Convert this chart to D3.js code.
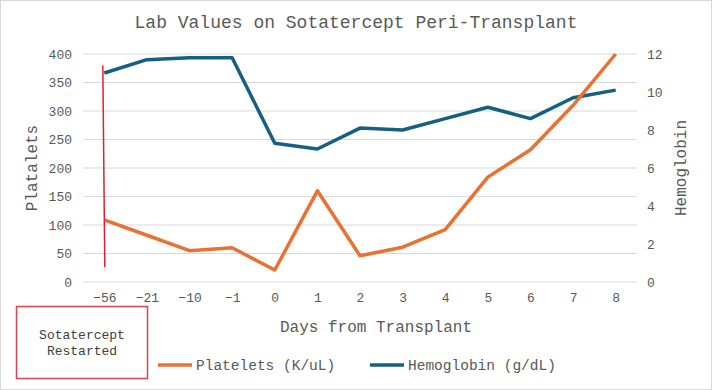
<!DOCTYPE html>
<html>
<head>
<meta charset="utf-8">
<script src="https://cdn.jsdelivr.net/npm/d3@7"></script>
<style>
  body { margin: 0; background: #fff; }
  text { font-family: "Liberation Mono", "Courier New", monospace; }
</style>
</head>
<body>
<div id="chart"></div>
<script>
// data
const days = ["-56", "-21", "-10", "-1", "0", "1", "2", "3", "4", "5", "6", "7", "8"];
const platelets = [109, 82, 55, 60, 21, 160, 46, 61, 92, 184, 232, 310, 400];
const hemoglobin = [11.0, 11.7, 11.8, 11.8, 7.3, 7.0, 8.1, 8.0, 8.6, 9.2, 8.6, 9.7, 10.1];
const leftTicks = [0, 50, 100, 150, 200, 250, 300, 350, 400];
const rightTicks = [0, 2, 4, 6, 8, 10, 12];
// red marker line (platelet units), drawn at day -56
const markerTop = 380, markerBottom = 26;

const W = 712, H = 390;
const margin = { top: 54, right: 75, bottom: 108, left: 83 };
const width = W - margin.left - margin.right;
const height = H - margin.top - margin.bottom;

const svg = d3.select("#chart").append("svg")
  .attr("width", W)
  .attr("height", H);

svg.append("rect")
  .attr("x", 0.5).attr("y", 0.5)
  .attr("width", W - 1).attr("height", H - 1)
  .attr("fill", "#fff")
  .attr("stroke", "#d9d9d9");

const g = svg.append("g")
  .attr("transform", `translate(${margin.left}, ${margin.top})`);

const x = d3.scalePoint()
  .domain(days)
  .range([0, width])
  .padding(0.5);

const yL = d3.scaleLinear().domain([0, 400]).range([height, 0]);
const yR = d3.scaleLinear().domain([0, 12]).range([height, 0]);

// gridlines
g.append("g")
  .selectAll("line")
  .data(leftTicks)
  .join("line")
  .attr("x1", 0).attr("x2", width)
  .attr("y1", d => yL(d)).attr("y2", d => yL(d))
  .attr("stroke", "#d9d9d9")
  .attr("stroke-width", 1);

// axes
const styleAxis = sel => {
  sel.select(".domain").remove();
  sel.selectAll(".tick line").remove();
  sel.selectAll("text")
    .attr("fill", "#595959")
    .style("font-size", "13px");
};

g.append("g")
  .call(d3.axisLeft(yL).tickValues(leftTicks).tickSize(0).tickPadding(11))
  .call(styleAxis);

g.append("g")
  .attr("transform", `translate(${width}, 0)`)
  .call(d3.axisRight(yR).tickValues(rightTicks).tickSize(0).tickPadding(10))
  .call(styleAxis);

g.append("g")
  .attr("transform", `translate(0, ${height})`)
  .call(d3.axisBottom(x).tickSize(0).tickPadding(11).tickFormat(d => d.replace("-", "\u2212")))
  .call(styleAxis);

// lines
const lineL = d3.line().x((d, i) => x(days[i])).y(d => yL(d));
const lineR = d3.line().x((d, i) => x(days[i])).y(d => yR(d));

g.append("path")
  .datum(hemoglobin)
  .attr("d", lineR)
  .attr("fill", "none")
  .attr("stroke", "#156082")
  .attr("stroke-width", 3.5)
  .attr("stroke-linejoin", "round");

g.append("path")
  .datum(platelets)
  .attr("d", lineL)
  .attr("fill", "none")
  .attr("stroke", "#e97132")
  .attr("stroke-width", 3.5)
  .attr("stroke-linejoin", "round");

// red marker
g.append("line")
  .attr("x1", x(days[0]) - 1.5).attr("y1", yL(markerTop))
  .attr("x2", x(days[0]) + 0.5).attr("y2", yL(markerBottom))
  .attr("stroke", "#e0202e")
  .attr("stroke-width", 1.5);

// title
svg.append("text")
  .attr("x", 356).attr("y", 28)
  .attr("text-anchor", "middle")
  .attr("fill", "#595959")
  .style("font-size", "18px")
  .text("Lab Values on Sotatercept Peri-Transplant");

// axis titles
svg.append("text")
  .attr("transform", `translate(37, ${margin.top + height / 2}) rotate(-90)`)
  .attr("text-anchor", "middle")
  .attr("fill", "#595959")
  .style("font-size", "16px")
  .text("Platalets");

svg.append("text")
  .attr("transform", `translate(686, ${margin.top + height / 2}) rotate(-90)`)
  .attr("text-anchor", "middle")
  .attr("fill", "#595959")
  .style("font-size", "16px")
  .text("Hemoglobin");

svg.append("text")
  .attr("x", 376).attr("y", 332)
  .attr("text-anchor", "middle")
  .attr("fill", "#595959")
  .style("font-size", "16px")
  .text("Days from Transplant");

// legend
const legend = [
  { name: "Platelets (K/uL)", color: "#e97132", x: 158 },
  { name: "Hemoglobin (g/dL)", color: "#156082", x: 370 }
];
const lg = svg.append("g").selectAll("g")
  .data(legend)
  .join("g")
  .attr("transform", d => `translate(${d.x}, 365)`);
lg.append("line")
  .attr("x1", 0).attr("x2", 34)
  .attr("stroke", d => d.color)
  .attr("stroke-width", 3.5);
lg.append("text")
  .attr("x", 38).attr("y", 5)
  .attr("fill", "#595959")
  .style("font-size", "14.5px")
  .text(d => d.name);

// annotation box
svg.append("rect")
  .attr("x", 16.5).attr("y", 306.5)
  .attr("width", 131).attr("height", 72)
  .attr("fill", "#fff")
  .attr("stroke", "#e0404f")
  .attr("stroke-width", 1.5);

svg.append("text")
  .attr("x", 82).attr("y", 339)
  .attr("text-anchor", "middle")
  .attr("fill", "#404040")
  .style("font-size", "13px")
  .selectAll("tspan")
  .data(["Sotatercept", "Restarted"])
  .join("tspan")
  .attr("x", 82)
  .attr("dy", (d, i) => i ? 16 : 0)
  .text(d => d);
</script>
</body>
</html>
